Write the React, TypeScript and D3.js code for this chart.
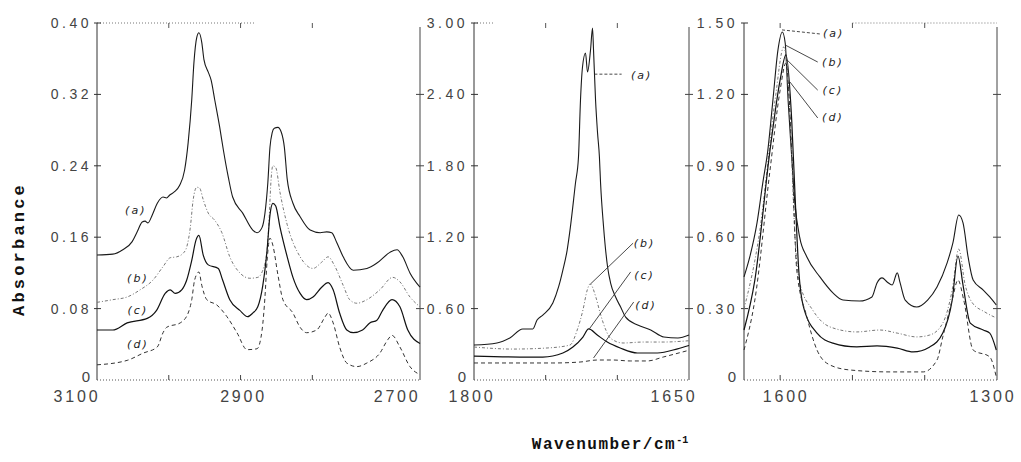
import React from 'react';
import * as d3 from 'd3';

type Pt = [number, number];

// ---------- Panel 1 (3100-2650 cm-1) ----------
const p1a: Pt[] = [[3100,0.140],[3078,0.141],[3064,0.146],[3051,0.155],[3044,0.166],[3037,0.177],[3033,0.178],[3029,0.176],[3023,0.185],[3016,0.198],[3008,0.205],[3003,0.204],[2999,0.207],[2992,0.211],[2985,0.218],[2978,0.235],[2973,0.266],[2968,0.314],[2965,0.355],[2961,0.384],[2958,0.389],[2954,0.378],[2951,0.359],[2945,0.345],[2941,0.336],[2936,0.314],[2929,0.283],[2924,0.258],[2917,0.227],[2911,0.205],[2897,0.187],[2883,0.168],[2877,0.165],[2870,0.171],[2866,0.187],[2862,0.221],[2859,0.261],[2856,0.277],[2853,0.282],[2848,0.283],[2843,0.277],[2839,0.261],[2835,0.225],[2827,0.198],[2817,0.183],[2803,0.168],[2789,0.165],[2780,0.166],[2773,0.165],[2766,0.154],[2757,0.138],[2743,0.123],[2724,0.125],[2710,0.131],[2692,0.143],[2682,0.146],[2674,0.138],[2664,0.120],[2650,0.104]];
const p1b: Pt[] = [[3100,0.087],[3078,0.090],[3058,0.093],[3040,0.101],[3022,0.112],[3008,0.127],[2998,0.137],[2989,0.138],[2980,0.142],[2975,0.149],[2970,0.171],[2966,0.202],[2961,0.216],[2957,0.215],[2952,0.202],[2945,0.187],[2936,0.179],[2926,0.165],[2915,0.138],[2901,0.120],[2887,0.114],[2876,0.115],[2869,0.123],[2863,0.146],[2860,0.183],[2858,0.218],[2855,0.240],[2851,0.238],[2845,0.210],[2835,0.174],[2817,0.138],[2799,0.125],[2787,0.132],[2778,0.138],[2769,0.128],[2757,0.106],[2748,0.090],[2738,0.086],[2724,0.090],[2706,0.101],[2688,0.115],[2678,0.110],[2664,0.093],[2650,0.082]];
const p1c: Pt[] = [[3100,0.056],[3078,0.056],[3058,0.064],[3030,0.069],[3017,0.078],[3005,0.097],[2998,0.101],[2991,0.097],[2982,0.101],[2975,0.112],[2968,0.134],[2962,0.157],[2958,0.162],[2952,0.140],[2945,0.129],[2931,0.125],[2925,0.112],[2915,0.090],[2901,0.078],[2890,0.071],[2883,0.075],[2876,0.082],[2869,0.106],[2863,0.146],[2859,0.185],[2855,0.198],[2851,0.195],[2845,0.171],[2835,0.138],[2827,0.115],[2817,0.097],[2808,0.090],[2799,0.093],[2787,0.104],[2778,0.109],[2771,0.101],[2762,0.075],[2752,0.056],[2743,0.053],[2730,0.056],[2720,0.064],[2710,0.067],[2702,0.078],[2689,0.090],[2678,0.082],[2667,0.056],[2650,0.041]];
const p1d: Pt[] = [[3100,0.017],[3058,0.022],[3036,0.030],[3016,0.037],[3008,0.053],[3003,0.059],[2984,0.064],[2973,0.075],[2968,0.090],[2964,0.112],[2958,0.121],[2954,0.106],[2947,0.090],[2933,0.084],[2919,0.071],[2905,0.053],[2891,0.034],[2877,0.035],[2870,0.056],[2866,0.093],[2863,0.134],[2859,0.159],[2855,0.151],[2848,0.118],[2841,0.090],[2827,0.075],[2817,0.059],[2808,0.053],[2794,0.056],[2782,0.071],[2778,0.075],[2771,0.064],[2762,0.037],[2752,0.019],[2738,0.015],[2724,0.019],[2706,0.030],[2695,0.045],[2689,0.050],[2678,0.037],[2664,0.015],[2650,0.006]];

// ---------- Panel 2 (1800-1650 cm-1) ----------
const p2a: Pt[] = [[1800,0.294],[1784,0.311],[1775,0.353],[1766,0.429],[1762,0.429],[1759,0.429],[1756,0.504],[1752,0.546],[1745,0.647],[1741,0.782],[1738,0.924],[1735,1.092],[1733,1.261],[1729.2,1.655],[1727.1,1.874],[1725.7,2.353],[1724.3,2.630],[1722.2,2.748],[1720.8,2.588],[1718.7,2.773],[1717.3,2.958],[1716.6,2.77],[1715.2,2.353],[1713.8,2.076],[1712.5,1.874],[1711.7,1.655],[1709.6,1.286],[1706.8,0.950],[1704.7,0.815],[1701.2,0.697],[1697.7,0.613],[1694.2,0.529],[1685.8,0.462],[1676.7,0.420],[1667.6,0.361],[1657.7,0.353],[1650,0.378]];
const p2b: Pt[] = [[1800,0.277],[1773,0.26],[1749,0.269],[1733,0.294],[1728,0.42],[1724,0.588],[1721,0.756],[1719,0.807],[1715,0.697],[1712,0.563],[1708,0.42],[1705,0.353],[1696,0.311],[1682,0.319],[1668,0.319],[1650,0.33]];
const p2c: Pt[] = [[1800,0.20],[1768,0.193],[1752,0.193],[1738,0.227],[1731,0.277],[1724,0.361],[1720,0.429],[1714,0.378],[1707,0.319],[1698,0.269],[1686,0.227],[1672,0.227],[1658,0.262],[1650,0.29]];
const p2d: Pt[] = [[1800,0.143],[1745,0.143],[1726,0.151],[1714,0.168],[1703,0.168],[1691,0.160],[1679,0.160],[1668,0.193],[1650,0.25]];

// ---------- Panel 3 (1650-1300 cm-1) ----------
const p3a: Pt[] = [[1650,0.433],[1642,0.517],[1632,0.660],[1624,0.828],[1617,0.966],[1610,1.176],[1603,1.387],[1597,1.462],[1593,1.416],[1589,1.176],[1584,0.937],[1580,0.756],[1573,0.600],[1563,0.517],[1545,0.433],[1527,0.366],[1513,0.336],[1490,0.332],[1473,0.349],[1466,0.408],[1459,0.429],[1452,0.412],[1445,0.399],[1438,0.450],[1434,0.408],[1427,0.336],[1411,0.307],[1396,0.336],[1383,0.391],[1369,0.492],[1361,0.576],[1353,0.693],[1347,0.660],[1340,0.517],[1333,0.420],[1319,0.378],[1310,0.349],[1301,0.315]];
const p3b: Pt[] = [[1650,0.298],[1628,0.630],[1607,1.176],[1595,1.399],[1586,1.092],[1580,0.630],[1573,0.408],[1555,0.294],[1531,0.223],[1494,0.202],[1462,0.210],[1438,0.197],[1411,0.181],[1393,0.189],[1375,0.239],[1362,0.378],[1353,0.550],[1344,0.399],[1335,0.328],[1317,0.286],[1301,0.261]];
const p3c: Pt[] = [[1650,0.210],[1635,0.420],[1614,0.966],[1600,1.261],[1592,1.366],[1584,1.092],[1579,0.75],[1574,0.45],[1568,0.31],[1549,0.197],[1527,0.155],[1494,0.139],[1466,0.143],[1438,0.134],[1416,0.118],[1393,0.139],[1375,0.197],[1362,0.336],[1354,0.521],[1347,0.399],[1337,0.239],[1319,0.210],[1310,0.197],[1301,0.126]];
const p3d: Pt[] = [[1650,0.126],[1635,0.336],[1614,0.882],[1600,1.218],[1592,1.332],[1584,0.966],[1577,0.462],[1563,0.265],[1549,0.126],[1531,0.063],[1503,0.042],[1448,0.034],[1402,0.034],[1383,0.084],[1375,0.181],[1362,0.336],[1354,0.420],[1346,0.336],[1333,0.126],[1310,0.097],[1301,0.013]];

// ---------- Tick values / labels ----------
const p1YTicks = [0, 0.08, 0.16, 0.24, 0.32, 0.40];
const p1YLabels = ['0', '0.08', '0.16', '0.24', '0.32', '0.40'];
const p2YTicks = [0, 0.6, 1.2, 1.8, 2.4, 3.0];
const p2YLabels = ['0', '0.60', '1.20', '1.80', '2.40', '3.00'];
const p3YTicks = [0, 0.3, 0.6, 0.9, 1.2, 1.5];
const p3YLabels = ['0', '0.30', '0.60', '0.90', '1.20', '1.50'];

const p1XTicks = [3000, 2900, 2800];
const p2XTicks = [1750, 1700];
const p3XTicks = [1600, 1500, 1400];
const p1XLabels = [3100, 2900, 2700];
const p2XLabels = [1800, 1650];
const p3XLabels = [1600, 1300];

const seriesNames = ['(a)', '(b)', '(c)', '(d)'];

const p1Notes: { pos: Pt }[] = [
  { pos: [3046, 0.190] }, { pos: [3043, 0.114] }, { pos: [3043, 0.078] }, { pos: [3043, 0.040] },
];
const p2Notes: { pos: Pt; from: Pt; to: Pt }[] = [
  { pos: [1683, 2.56], from: [1716, 2.57], to: [1697, 2.57] },
  { pos: [1681, 1.15], from: [1718.7, 0.807], to: [1689, 1.15] },
  { pos: [1681, 0.874], from: [1719.5, 0.43], to: [1690.7, 0.908] },
  { pos: [1680, 0.622], from: [1716.6, 0.185], to: [1688.6, 0.655] },
];
const p3Notes: { pos: Pt; from: Pt; to: Pt }[] = [
  { pos: [1526, 1.454], from: [1597.4, 1.471], to: [1545, 1.454] },
  { pos: [1527, 1.336], from: [1593.3, 1.408], to: [1548, 1.336] },
  { pos: [1527, 1.218], from: [1590.5, 1.345], to: [1548, 1.218] },
  { pos: [1527, 1.101], from: [1586.4, 1.252], to: [1548, 1.101] },
];

const styles = [
  { stroke: '#1a1a1a', width: 1.1, dash: undefined as string | undefined },
  { stroke: '#777', width: 1.0, dash: '3,2,1,2' },
  { stroke: '#111', width: 1.2, dash: undefined },
  { stroke: '#333', width: 1.0, dash: '4,3' },
];

const TOP = 23;
const BOTTOM = 380;

const panels = [
  {
    x0: 97, x1: 420, xDom: [3100, 2650], yMax: 0.40,
    series: [p1a, p1b, p1c, p1d],
    yTicks: p1YTicks, yLabels: p1YLabels, xTicks: p1XTicks, xLabels: p1XLabels,
    xLabelDx: [-20, 3, 13], topDotted: [3100, 2880], labelEnd: 92,
  },
  {
    x0: 474, x1: 689, xDom: [1800, 1650], yMax: 3.0,
    series: [p2a, p2b, p2c, p2d],
    yTicks: p2YTicks, yLabels: p2YLabels, xTicks: p2XTicks, xLabels: p2XLabels,
    xLabelDx: [-2, -15], topDotted: [1800, 1786], labelEnd: 468,
  },
  {
    x0: 744, x1: 997, xDom: [1650, 1300], yMax: 1.5,
    series: [p3a, p3b, p3c, p3d],
    yTicks: p3YTicks, yLabels: p3YLabels, xTicks: p3XTicks, xLabels: p3XLabels,
    xLabelDx: [6, -4], topDotted: [1500, 1300], labelEnd: 738,
  },
];

const tickFont = '"Liberation Sans", Arial, sans-serif';

export default function App() {
  return (
    <svg width={1021} height={462} style={{ position: 'absolute', left: 0, top: 0, background: '#fff' }}>
      <rect x={0} y={0} width={1021} height={462} fill="#fff" />
      {panels.map((p, pi) => {
        const x = d3.scaleLinear().domain(p.xDom).range([p.x0, p.x1]);
        const y = d3.scaleLinear().domain([0, p.yMax]).range([BOTTOM, TOP]);
        const line = d3.line<Pt>().x(d => x(d[0])).y(d => y(d[1])).curve(d3.curveMonotoneX);
        return (
          <g key={pi}>
            <line x1={p.x0} x2={p.x0} y1={TOP} y2={BOTTOM} stroke="#333" strokeWidth={1} />
            <line x1={p.x1} x2={p.x1} y1={TOP + 4} y2={BOTTOM} stroke="#444" strokeWidth={1} />
            <line x1={p.x0} x2={p.x1} y1={BOTTOM} y2={BOTTOM} stroke="#555" strokeWidth={1} strokeDasharray="1,2" />
            <line x1={x(p.topDotted[0])} x2={x(p.topDotted[1])} y1={TOP} y2={TOP} stroke="#777" strokeWidth={1} strokeDasharray="1,2" />
            {p.yTicks.map((t, i) => (
              <g key={'yt' + i}>
                {i > 0 && <line x1={p.x0 - 3} x2={p.x0 + 4} y1={y(t)} y2={y(t)} stroke="#333" />}
                {i > 0 && i < p.yTicks.length - 1 && (
                  <line x1={p.x1 - 4} x2={p.x1 + 4} y1={y(t)} y2={y(t)} stroke="#444" />
                )}
                <text
                  x={i === 0 ? p.labelEnd - 2 : p.labelEnd}
                  y={i === 0 ? y(t) - 4 : y(t)}
                  textAnchor="end"
                  dominantBaseline="central"
                  fontFamily={tickFont}
                  fontSize={i === 0 ? 15 : 14}
                  letterSpacing={i === 0 ? 0 : 3.5}
                  fill="#444"
                >
                  {p.yLabels[i]}
                </text>
              </g>
            ))}
            {p.xTicks.map((t, i) => (
              <g key={'xt' + i}>
                <line x1={x(t)} x2={x(t)} y1={BOTTOM} y2={BOTTOM - 5} stroke="#444" />
                <line x1={x(t)} x2={x(t)} y1={TOP} y2={TOP + 5} stroke="#555" />
              </g>
            ))}
            {p.xLabels.map((t, i) => (
              <text
                key={'xl' + i}
                x={x(t) + p.xLabelDx[i]}
                y={402}
                textAnchor="middle"
                fontFamily={tickFont}
                fontSize={16}
                letterSpacing={2.8}
                fill="#444"
              >
                {t}
              </text>
            ))}
            {p.series.map((s, si) => (
              <path
                key={'s' + si}
                d={line(s) || ''}
                fill="none"
                stroke={styles[si].stroke}
                strokeWidth={styles[si].width}
                strokeDasharray={styles[si].dash}
              />
            ))}
            {pi === 0 &&
              p1Notes.map((n, i) => (
                <text key={'n' + i} x={x(n.pos[0])} y={y(n.pos[1])} textAnchor="middle" dominantBaseline="central"
                  fontFamily='"DejaVu Sans", sans-serif' fontStyle="italic" fontSize={11} letterSpacing={2} fill="#222">
                  {seriesNames[i]}
                </text>
              ))}
            {pi > 0 &&
              (pi === 1 ? p2Notes : p3Notes).map((n, i) => (
                <g key={'n' + i}>
                  <line x1={x(n.from[0])} y1={y(n.from[1])} x2={x(n.to[0])} y2={y(n.to[1])}
                    stroke="#333" strokeWidth={0.9} strokeDasharray={i === 0 ? '3,2' : undefined} />
                  <text x={x(n.pos[0])} y={y(n.pos[1])} textAnchor="middle" dominantBaseline="central"
                    fontFamily='"DejaVu Sans", sans-serif' fontStyle="italic" fontSize={11} letterSpacing={2} fill="#222">
                    {seriesNames[i]}
                  </text>
                </g>
              ))}
          </g>
        );
      })}
      <text
        transform="translate(24,249) rotate(-90)"
        textAnchor="middle"
        fontFamily='"Liberation Mono", "DejaVu Sans Mono", monospace'
        fontWeight="bold"
        fontSize={17}
        letterSpacing={3.2}
        fill="#111"
      >
        Absorbance
      </text>
      <text
        x={610}
        y={449}
        textAnchor="middle"
        fontFamily='"Liberation Mono", "DejaVu Sans Mono", monospace'
        fontWeight="bold"
        fontSize={16}
        letterSpacing={1.5}
        fill="#111"
      >
        Wavenumber/cm
        <tspan dy={-6} fontSize={10} letterSpacing={0}>-1</tspan>
      </text>
    </svg>
  );
}
